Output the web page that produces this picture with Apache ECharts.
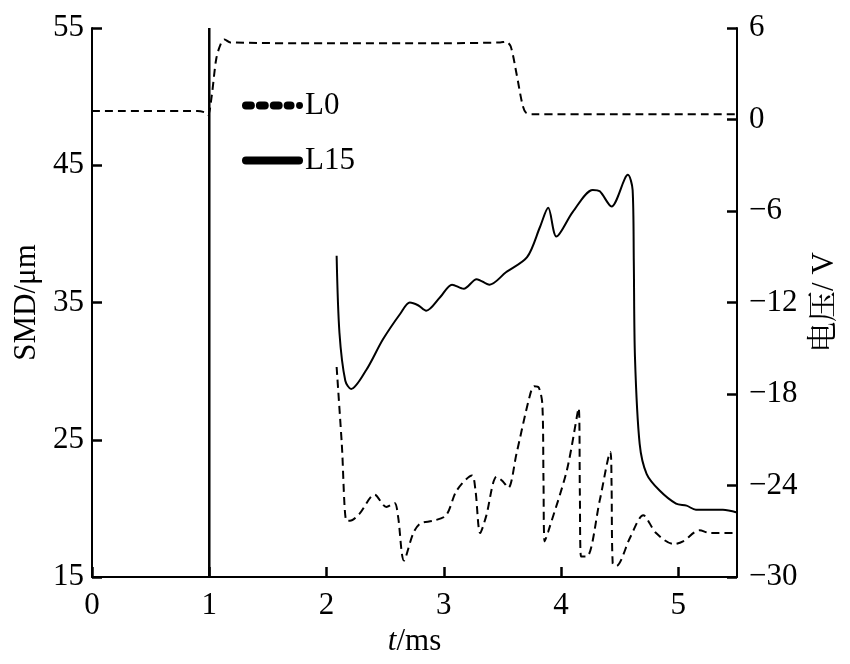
<!DOCTYPE html>
<html><head><meta charset="utf-8">
<script src="https://cdn.jsdelivr.net/npm/echarts@6/dist/echarts.min.js"></script>
<style>html,body{margin:0;padding:0;background:#fff}#c{width:850px;height:664px;background:#fff}</style>
</head><body><div id="c"></div>
<script>
// SMD L15 (solid), left axis
const smdL15 = [[2.086,38.4],[2.11,32.8],[2.16,29.3],[2.21,28.7],[2.34,30.1],[2.48,32.3],[2.63,34.2],[2.71,35.0],[2.78,34.8],[2.85,34.4],[2.97,35.4],[3.07,36.3],[3.17,36.0],[3.28,36.7],[3.39,36.3],[3.53,37.2],[3.71,38.3],[3.82,40.5],[3.89,41.9],[3.96,39.8],[4.10,41.6],[4.27,43.2],[4.33,43.1],[4.43,42.0],[4.57,44.3],[4.61,43.2],[4.62,38.0],[4.63,31.0],[4.67,24.7],[4.73,22.5],[4.84,21.3],[4.98,20.35],[5.07,20.2],[5.15,19.9],[5.38,19.9],[5.5,19.7]];
// SMD L0 (dashed), left axis
const smdL0 = [[2.086,30.3],[2.13,24.7],[2.17,19.1],[2.2,19.1],[2.28,19.6],[2.41,21.0],[2.51,20.1],[2.58,20.4],[2.61,19.4],[2.66,16.2],[2.74,18.2],[2.80,18.9],[2.91,19.1],[3.02,19.5],[3.11,21.3],[3.24,22.4],[3.27,21.3],[3.31,18.2],[3.36,19.4],[3.45,22.3],[3.50,22.0],[3.55,21.5],[3.62,24.0],[3.73,28.1],[3.77,28.9],[3.81,28.8],[3.84,27.6],[3.85,22.0],[3.86,17.6],[3.89,18.3],[4.05,22.8],[4.15,27.3],[4.16,21.1],[4.17,16.5],[4.22,16.5],[4.33,20.6],[4.42,24.1],[4.43,21.9],[4.44,16.0],[4.47,15.8],[4.59,17.9],[4.70,19.5],[4.81,18.2],[4.96,17.4],[5.04,17.6],[5.18,18.4],[5.27,18.2],[5.5,18.2]];
// Voltage L0 (dashed), right axis
const voltL0 = [[0,0.55],[0.9,0.55],[0.97,0.45],[0.99,0.3],[1.02,1.5],[1.06,4.0],[1.1,5.0],[1.13,5.25],[1.18,5.05],[2.0,5.0],[3.0,5.0],[3.48,5.05],[3.53,5.1],[3.57,4.8],[3.62,3.0],[3.67,1.0],[3.7,0.45],[3.75,0.35],[4.5,0.35],[5.5,0.35]];
// Voltage L15 (solid vertical trace at t=1), right axis
const voltL15 = [[1,6],[1,-30]];
const xTicks = [0,1,2,3,4,5];
const leftTicks = [15,25,35,45,55];
const rightTicks = [-30,-24,-18,-12,-6,0,6];
const legendNames = ['L0','L15'];

const font = 'Liberation Serif';
const fs = 31;
const chart = echarts.init(document.getElementById('c'));
const line = () => ({show:true,onZero:false,lineStyle:{color:'#000',width:2}});
const tick = () => ({show:true,inside:true,length:10,lineStyle:{color:'#000',width:2.5}});
const dashIcon = 'path://M4,0H9A4,4 0 0 1 9,8H4A4,4 0 0 1 4,0Z M18,0H23A4,4 0 0 1 23,8H18A4,4 0 0 1 18,0Z M32,0H37A4,4 0 0 1 37,8H32A4,4 0 0 1 32,0Z M46,0H49A4,4 0 0 1 49,8H46A4,4 0 0 1 46,0Z M58,0.5A3.5,3.5 0 0 1 58,7.5A3.5,3.5 0 0 1 58,0.5Z';
const solidIcon = 'path://M4,0H57A4,4 0 0 1 57,8H4A4,4 0 0 1 4,0Z';
chart.setOption({
  animation:false,
  grid:{left:92,right:113,top:28,bottom:87},
  legend:{
    data:[{name:legendNames[0],icon:dashIcon},{name:legendNames[1],icon:solidIcon}],
    orient:'vertical', left:237, top:85, itemWidth:61, itemHeight:9, itemGap:24,
    textStyle:{fontFamily:font,fontSize:fs,color:'#000',padding:[0,0,0,-3]},
    itemStyle:{color:'#000'}
  },
  xAxis:{type:'value',min:0,max:5.5,interval:1,
    axisLine:line(), axisTick:tick(), splitLine:{show:false},
    axisLabel:{fontFamily:font,fontSize:fs,color:'#000',margin:13,showMaxLabel:false,
      formatter:v=>xTicks.includes(v)?String(v):''},
    name:'{i|t}/ms',nameLocation:'middle',nameGap:43,
    nameTextStyle:{fontFamily:font,fontSize:fs,color:'#000',rich:{i:{fontFamily:font,fontStyle:'italic',fontSize:fs,color:'#000'}}}
  },
  yAxis:[
    {type:'value',min:15,max:55,interval:10,position:'left',
      axisLine:line(), axisTick:tick(), splitLine:{show:false},
      axisLabel:{fontFamily:font,fontSize:fs,color:'#000',margin:8,formatter:v=>leftTicks.includes(v)?String(v):''},
      name:'SMD/μm',nameLocation:'middle',nameGap:46,nameRotate:90,
      nameTextStyle:{fontFamily:font,fontSize:fs,color:'#000'}
    },
    {type:'value',min:-30,max:6,interval:6,position:'right',
      axisLine:line(), axisTick:tick(), splitLine:{show:false},
      axisLabel:{fontFamily:font,fontSize:fs,color:'#000',margin:12,
        formatter:v=>rightTicks.includes(v)?String(v).replace('-','\u2212'):''},
      name:'电压/ V',nameLocation:'middle',nameGap:72,nameRotate:90,
      nameTextStyle:{fontFamily:"'Liberation Serif','Noto Serif CJK SC','Noto Sans CJK SC'",fontSize:fs,color:'#000'}
    }
  ],
  series:[
    {name:'L0',type:'line',yAxisIndex:0,data:smdL0,showSymbol:false,symbol:'none',smooth:0.3,
      lineStyle:{color:'#000',width:2,type:[8,5]},itemStyle:{color:'#000'}},
    {name:'L15',type:'line',yAxisIndex:0,data:smdL15,showSymbol:false,symbol:'none',smooth:0.3,
      lineStyle:{color:'#000',width:2},itemStyle:{color:'#000'}},
    {name:'V0',type:'line',yAxisIndex:1,data:voltL0,showSymbol:false,symbol:'none',smooth:0.3,
      lineStyle:{color:'#000',width:2,type:[8,5]}},
    {name:'V15',type:'line',yAxisIndex:1,data:voltL15,showSymbol:false,symbol:'none',
      lineStyle:{color:'#000',width:2.5}}
  ]
});
</script></body></html>
